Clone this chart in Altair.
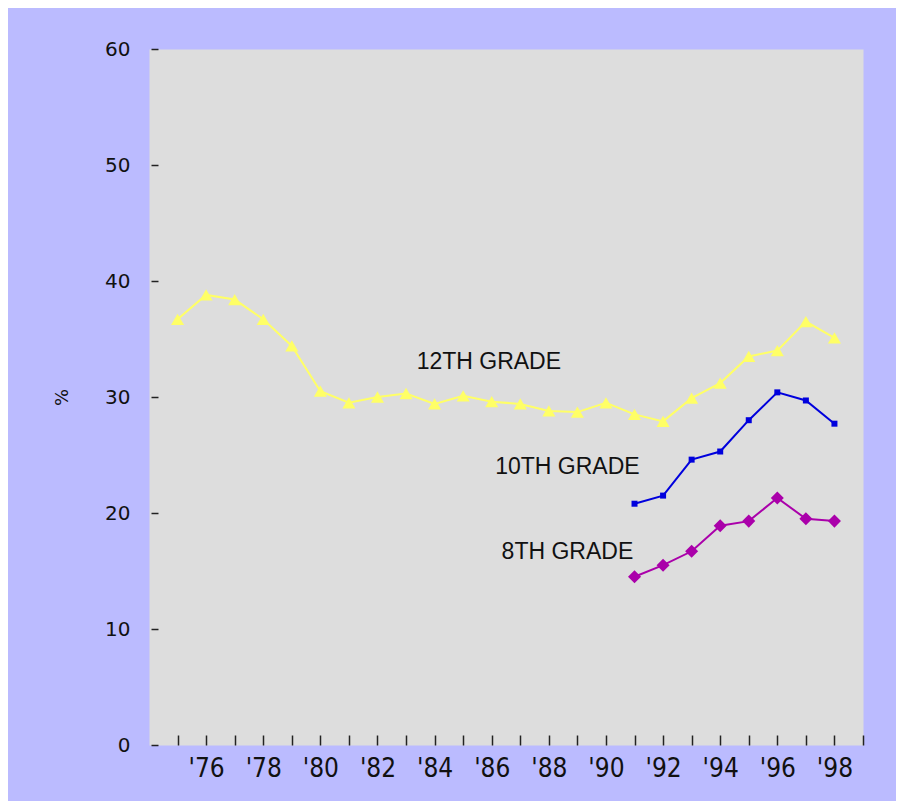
import altair as alt
import pandas as pd

# ---- data ----
years_12 = list(range(75, 99))
grade12 = [36.7, 38.8, 38.4, 36.7, 34.4, 30.5, 29.5, 30.0, 30.3, 29.4,
           30.1, 29.6, 29.4, 28.8, 28.7, 29.5, 28.5, 27.9, 29.9, 31.2,
           33.5, 34.0, 36.5, 35.1]
years_10 = list(range(91, 99))
grade10 = [20.8, 21.5, 24.6, 25.3, 28.0, 30.4, 29.7, 27.7]
years_8 = list(range(91, 99))
grade8 = [14.5, 15.5, 16.7, 18.9, 19.3, 21.3, 19.5, 19.3]

label_text = ["12TH GRADE", "10TH GRADE", "8TH GRADE"]
label_year = [85.9, 88.65, 88.65]
label_value = [33.0, 24.0, 16.6]

x_tick_values = list(range(75, 100))
y_tick_values = [0, 10, 20, 30, 40, 50, 60]

df12 = pd.DataFrame({"year": years_12, "value": grade12})
df10 = pd.DataFrame({"year": years_10, "value": grade10})
df8 = pd.DataFrame({"year": years_8, "value": grade8})
dflab = pd.DataFrame({"year": label_year, "value": label_value, "text": label_text})

x_enc = alt.X(
    "year:Q",
    scale=alt.Scale(domain=[74, 99], nice=False, zero=False),
    axis=alt.Axis(
        values=x_tick_values,
        tickCount=40,
        labelExpr="(datum.value % 2 == 0 && datum.value < 99) ? \"'\" + datum.value : ''",
        offset=-10,
        tickSize=10,
        tickColor="#222222",
        tickWidth=1.5,
        domain=False,
        grid=False,
        labelOverlap=False,
        labelFlush=False,
        labelPadding=10,
        labelBaseline="top",
        labelFont="Liberation Sans Narrow, DejaVu Sans Condensed, sans-serif",
        labelFontSize=26,
        labelColor="#111111",
        title=None,
    ),
)
y_enc = alt.Y(
    "value:Q",
    scale=alt.Scale(domain=[0, 60], nice=False),
    axis=alt.Axis(
        values=y_tick_values,
        tickCount=20,
        offset=-9,
        tickSize=7,
        tickColor="#222222",
        tickWidth=1.5,
        domain=False,
        grid=False,
        labelPadding=21,
        labelFont="DejaVu Sans",
        labelFontSize=20,
        labelColor="#111111",
        title="%",
        titleFont="DejaVu Sans",
        titleFontSize=18,
        titleFontWeight="normal",
        titleColor="#111111",
        titleX=-87,
        titleY=348,
        titleAngle=-90,
    ),
)

line12 = alt.Chart(df12).mark_line(color="#FFFF66", strokeWidth=2).encode(x=x_enc, y=y_enc)
pts12 = alt.Chart(df12).mark_point(shape="triangle-up", filled=True, size=170,
                                   color="#FFFF66", opacity=1).encode(x="year:Q", y="value:Q")
line10 = alt.Chart(df10).mark_line(color="#0000DD", strokeWidth=2).encode(x="year:Q", y="value:Q")
pts10 = alt.Chart(df10).mark_point(shape="square", filled=True, size=36,
                                   color="#0000DD", opacity=1).encode(x="year:Q", y="value:Q")
line8 = alt.Chart(df8).mark_line(color="#AA00AA", strokeWidth=2).encode(x="year:Q", y="value:Q")
pts8 = alt.Chart(df8).mark_point(shape="diamond", filled=True, size=170,
                                 color="#AA00AA", opacity=1).encode(x="year:Q", y="value:Q")
labels = alt.Chart(dflab).mark_text(
    font="Liberation Sans", fontSize=23, color="#111111",
    align="center", baseline="middle"
).encode(x="year:Q", y="value:Q", text="text:N")

chart = alt.layer(line12, pts12, line10, pts10, line8, pts8, labels).properties(
    width=714,
    height=696,
    autosize=alt.AutoSizeParams(type="none"),
    padding={"left": 141, "top": 41, "right": 33, "bottom": 56},
    background="#BBBBFF",
).configure_view(fill="#DDDDDD", strokeOpacity=0)

chart.save("out.html", embed_options={"renderer": "svg", "actions": False})
